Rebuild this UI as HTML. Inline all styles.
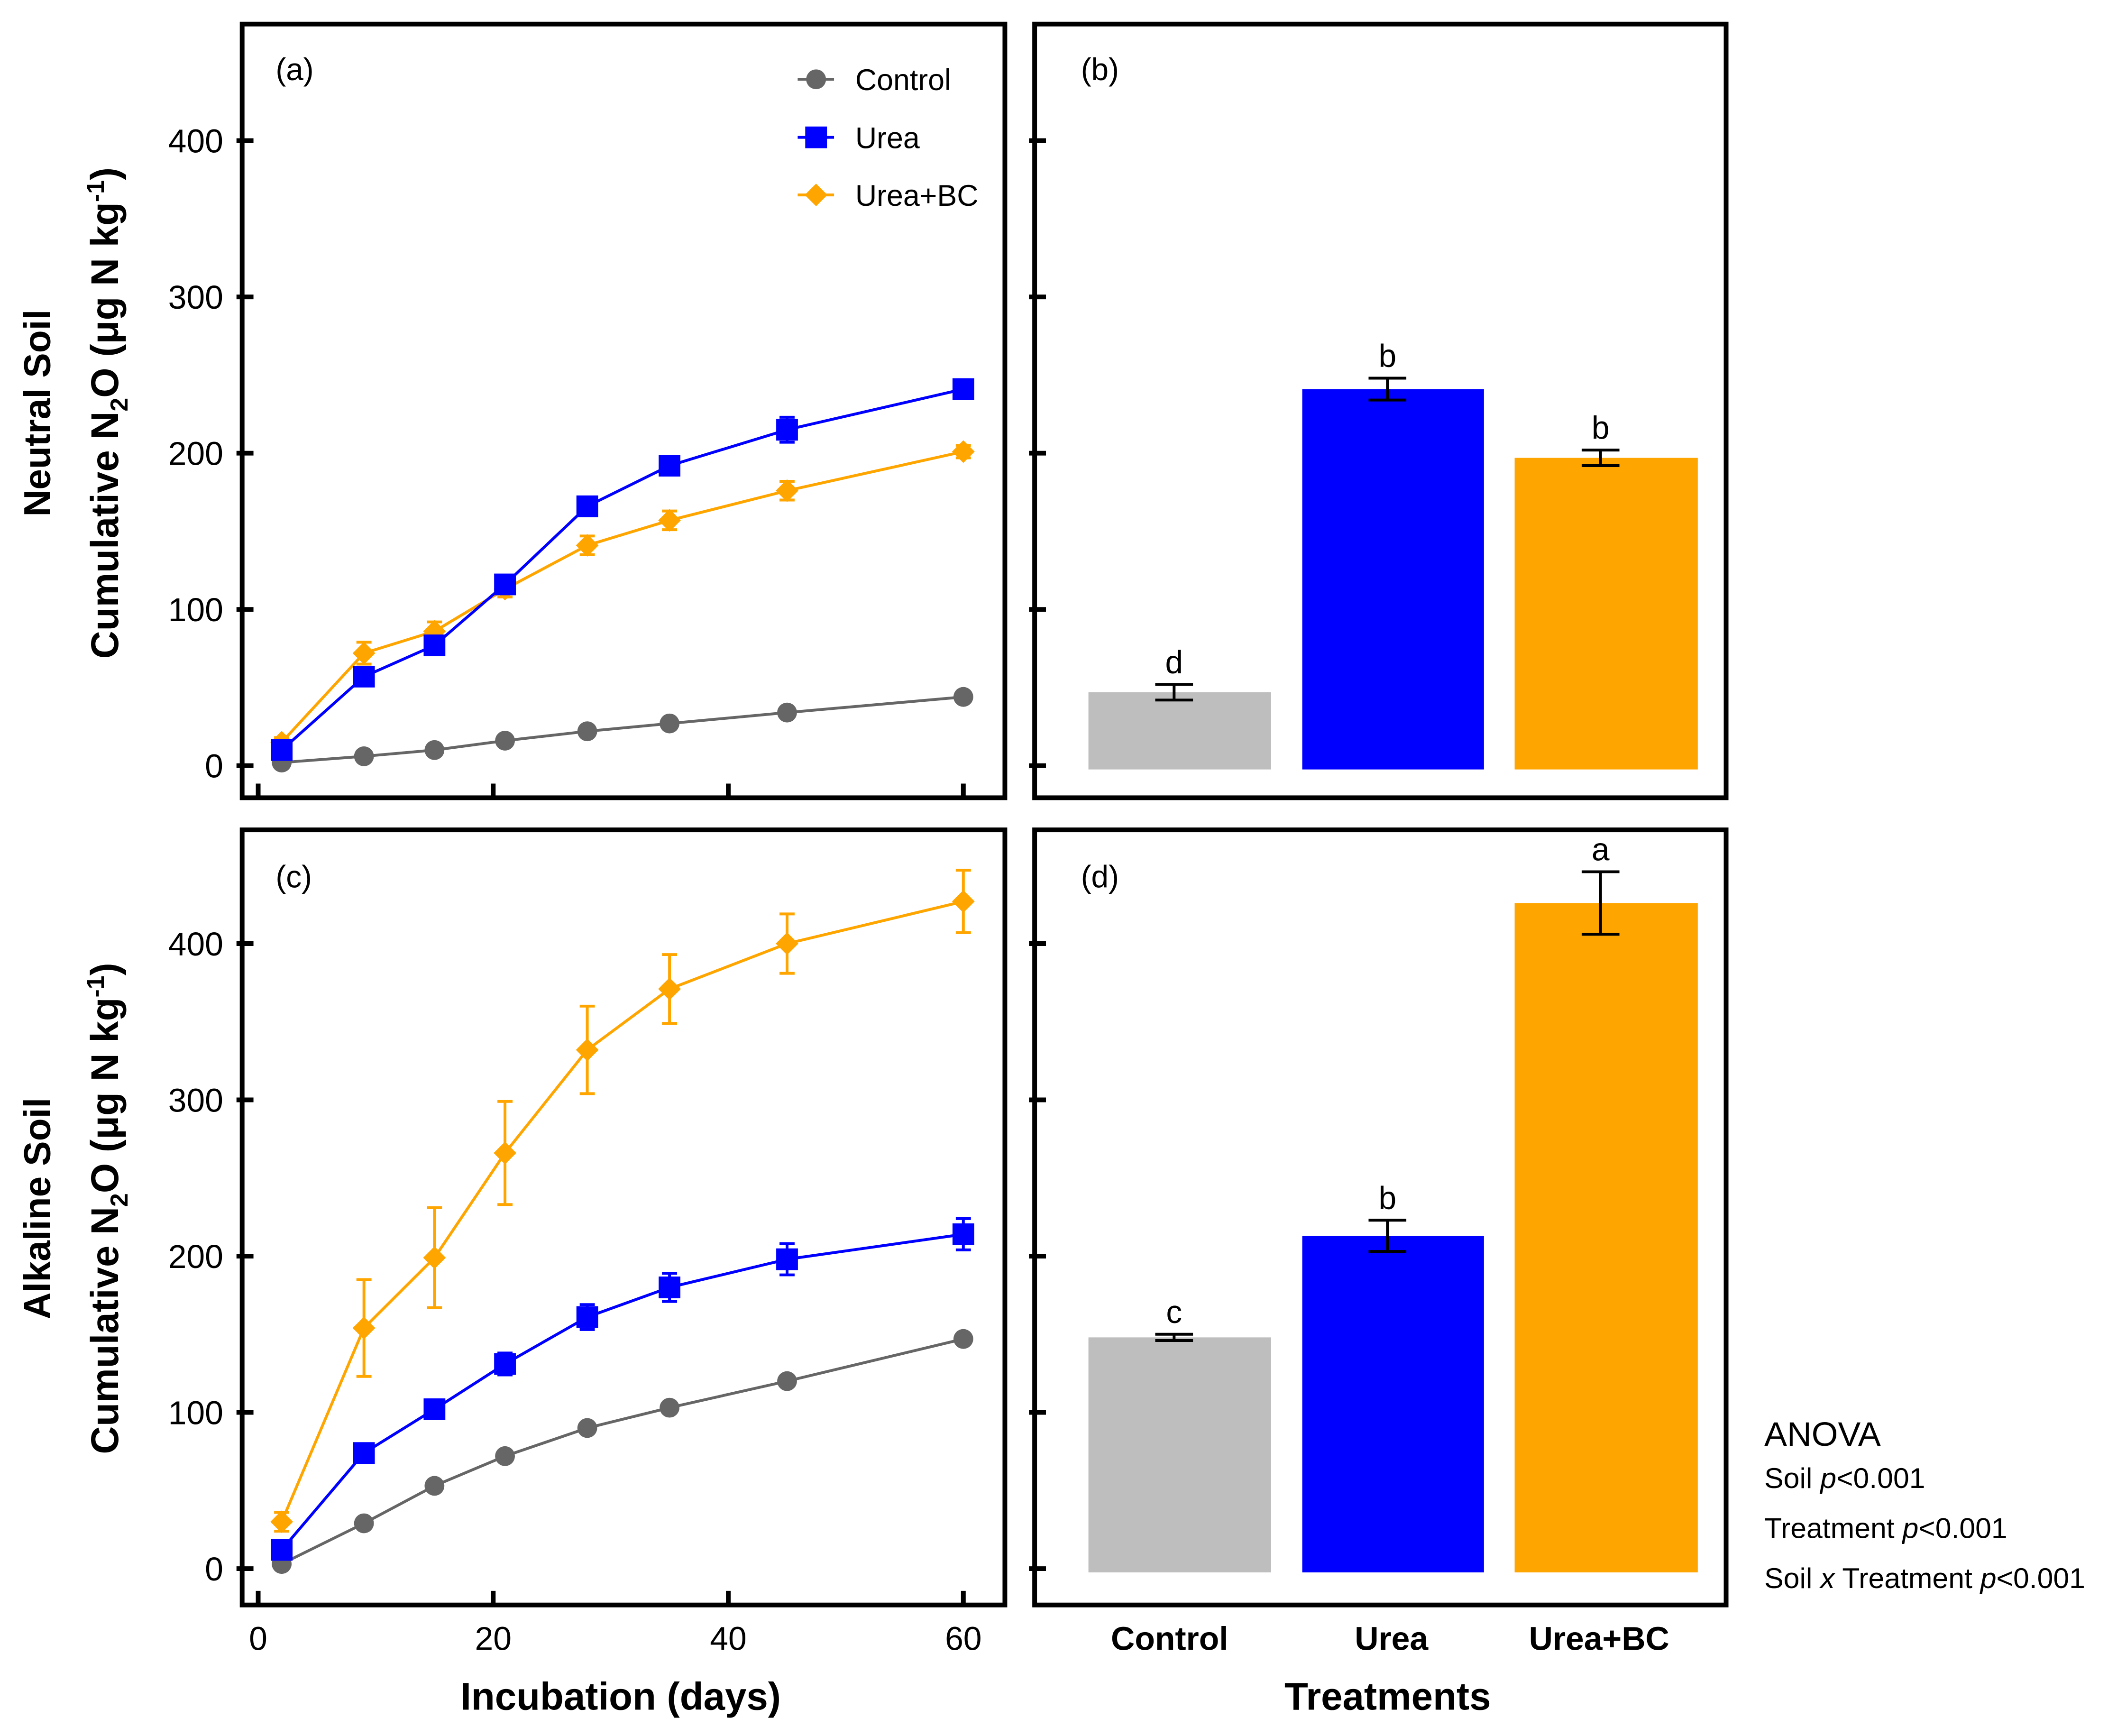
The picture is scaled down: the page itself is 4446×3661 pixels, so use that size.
<!DOCTYPE html>
<html><head><meta charset="utf-8"><style>
html,body{margin:0;padding:0;background:#fff;}
svg{display:block;font-family:"Liberation Sans",Arial,sans-serif;}
</style></head><body>
<svg id="fig" width="4446" height="3661" viewBox="0 0 4446 3661" xmlns="http://www.w3.org/2000/svg">
<g transform="scale(0.9955)">
<g id="root"></g>
<text x="584" y="170" font-size="66">(a)</text>
<text x="2290" y="170" font-size="66">(b)</text>
<text x="584" y="1880" font-size="66">(c)</text>
<text x="2290" y="1880" font-size="66">(d)</text>
<text transform="translate(106,875) rotate(-90)" font-size="79" font-weight="bold" text-anchor="middle">Neutral Soil</text>
<text transform="translate(250,875) rotate(-90)" font-size="82" font-weight="bold" text-anchor="middle">Cumulative N<tspan font-size="52" dy="20">2</tspan><tspan dy="-20">O (μg N kg</tspan><tspan font-size="52" dy="-30">-1</tspan><tspan dy="30">)</tspan></text>
<text transform="translate(106,2560) rotate(-90)" font-size="79" font-weight="bold" text-anchor="middle">Alkaline Soil</text>
<text transform="translate(250,2560) rotate(-90)" font-size="82" font-weight="bold" text-anchor="middle">Cumulative N<tspan font-size="52" dy="20">2</tspan><tspan dy="-20">O (μg N kg</tspan><tspan font-size="52" dy="-30">-1</tspan><tspan dy="30">)</tspan></text>
<text x="1315" y="3622" font-size="82" font-weight="bold" text-anchor="middle">Incubation (days)</text>
<text x="2940" y="3622" font-size="82" font-weight="bold" text-anchor="middle">Treatments</text>
<text x="2478" y="3495" font-size="70" font-weight="bold" text-anchor="middle">Control</text>
<text x="2948" y="3495" font-size="70" font-weight="bold" text-anchor="middle">Urea</text>
<text x="3388" y="3495" font-size="70" font-weight="bold" text-anchor="middle">Urea+BC</text>
<text x="3738" y="3063" font-size="72">ANOVA</text>
<text x="3738" y="3152" font-size="61">Soil <tspan font-style="italic">p</tspan>&lt;0.001</text>
<text x="3738" y="3258" font-size="61">Treatment <tspan font-style="italic">p</tspan>&lt;0.001</text>
<text x="3738" y="3364" font-size="61">Soil <tspan font-style="italic">x</tspan> Treatment <tspan font-style="italic">p</tspan>&lt;0.001</text>
</g>
</svg>
<script>
const days = [2,9,15,21,28,35,45,60];
const neutralControl = [2,6,10,16,22,27,34,44];
const neutralControlErr = [1,1,1,1,1,1,1,1];
const neutralUrea = [10,57,77,116,166,192,215,241];
const neutralUreaErr = [3,4,5,5,5,5,8,6];
const neutralUreaBC = [15,72,86,113,141,157,176,201];
const neutralUreaBCErr = [3,7,6,5,6,6,6,4];
const alkControl = [3,29,53,72,90,103,120,147];
const alkControlErr = [1,1,1,1,1,1,1,1];
const alkUrea = [12,74,102,131,161,180,198,214];
const alkUreaErr = [3,4,6,7,8,9,10,10];
const alkUreaBC = [30,154,199,266,332,371,400,427];
const alkUreaBCErr = [6,31,32,33,28,22,19,20];
const treatments = ["Control","Urea","Urea+BC"];
const neutralBars = [47,241,197];
const neutralBarErr = [5,7,5];
const neutralLetters = ["d","b","b"];
const alkBars = [148,213,426];
const alkBarErr = [2,10,20];
const alkLetters = ["c","b","a"];
const yTicks = [0,100,200,300,400];
const xTicks = [0,20,40,60];

const NS="http://www.w3.org/2000/svg";
const root=document.getElementById('root');
function el(tag,attrs,parent,text){const e=document.createElementNS(NS,tag);for(const k in attrs)e.setAttribute(k,attrs[k]);if(text!==undefined)e.textContent=text;(parent||root).appendChild(e);return e;}

const xL=function(d){return 547+(d-0)*(2041-547)/60;};
function yMap(base){return function(v){return base - v*3.31;};}
const yTop=yMap(1622), yBot=yMap(3323);
const colors={control:"#666666",urea:"#0000ff",bc:"#ffa500"};
const barColors=["#bebebe","#0000ff","#ffa500"];
const barX=[[2306,2693],[2759,3144],[3209,3597]];

function frame(x1,y1,x2,y2,name){
  const r=el('rect',{x:x1,y:y1,width:x2-x1,height:y2-y1,fill:'none',stroke:'#000','stroke-width':10});
  
  
}
function yAxis(y,xf,labels,name){
  const g=el('g',{});
  
  
  yTicks.forEach(t=>{
    el('line',{x1:xf-12,x2:xf+24,y1:y(t),y2:y(t),stroke:'#000','stroke-width':10},g);
    if(labels){const tx=el('text',{x:xf-40,y:y(t)+25,'font-size':70,'text-anchor':'end'},g,String(t));
      
      }
  });
}
function xAxis(yb,labels,name){
  const g=el('g',{});
  
  
  xTicks.forEach(t=>{
    el('line',{x1:xL(t),x2:xL(t),y1:yb-30,y2:yb+4,stroke:'#000','stroke-width':10},g);
    if(labels){const tx=el('text',{x:xL(t),y:yb+95,'font-size':70,'text-anchor':'middle'},g,String(t));
      
      }
  });
}
function marker(g,type,cx,cy,c){
  if(type==='circle')el('circle',{cx:cx,cy:cy,r:21,fill:c},g);
  else if(type==='square')el('rect',{x:cx-23,y:cy-23,width:46,height:46,fill:c},g);
  else el('polygon',{points:`${cx},${cy-24} ${cx+24},${cy} ${cx},${cy+24} ${cx-24},${cy}`,fill:c},g);
}
function series(vals,errs,y,c,type,name){
  const g=el('g',{});
  
  
  el('polyline',{points:days.map((d,i)=>xL(d)+','+y(vals[i])).join(' '),fill:'none',stroke:c,'stroke-width':6},g);
  days.forEach((d,i)=>{
    const x=xL(d),t=y(vals[i]+errs[i]),b=y(vals[i]-errs[i]);
    el('line',{x1:x,x2:x,y1:t,y2:b,stroke:c,'stroke-width':6},g);
    el('line',{x1:x-16,x2:x+16,y1:t,y2:t,stroke:c,'stroke-width':6},g);
    el('line',{x1:x-16,x2:x+16,y1:b,y2:b,stroke:c,'stroke-width':6},g);
  });
  days.forEach((d,i)=>marker(g,type,xL(d),y(vals[i]),c));
}
function bars(vals,errs,letters,y,name){
  const g=el('g',{});
  
  
  vals.forEach((v,i)=>{
    const [a,b]=barX[i];
    const r=el('rect',{x:a,y:y(v),width:b-a,height:y(0)-y(v)+8,fill:barColors[i]},g);
    
    
    const cx=(a+b)/2-12,t=y(v+errs[i]),bt=y(v-errs[i]);
    el('line',{x1:cx,x2:cx,y1:t,y2:bt,stroke:'#000','stroke-width':6},g);
    el('line',{x1:cx-40,x2:cx+40,y1:t,y2:t,stroke:'#000','stroke-width':6},g);
    el('line',{x1:cx-40,x2:cx+40,y1:bt,y2:bt,stroke:'#000','stroke-width':6},g);
    const tx=el('text',{x:cx,y:t-24,'font-size':68,'text-anchor':'middle'},g,letters[i]);
    
    
  });
}

series(neutralControl,neutralControlErr,yTop,colors.control,'circle','series-control-neutral');
series(neutralUreaBC,neutralUreaBCErr,yTop,colors.bc,'diamond','series-urea-bc-neutral');
series(neutralUrea,neutralUreaErr,yTop,colors.urea,'square','series-urea-neutral');
frame(513,51,2129,1690,'panel-a-frame');
yAxis(yTop,513,true,'panel-a-y-axis');
xAxis(1690,false,'panel-a-x-axis');
series(alkControl,alkControlErr,yBot,colors.control,'circle','series-control-alkaline');
series(alkUrea,alkUreaErr,yBot,colors.urea,'square','series-urea-alkaline');
series(alkUreaBC,alkUreaBCErr,yBot,colors.bc,'diamond','series-urea-bc-alkaline');
frame(513,1758,2129,3400,'panel-c-frame');
yAxis(yBot,513,true,'panel-c-y-axis');
xAxis(3400,true,'panel-c-x-axis');
bars(neutralBars,neutralBarErr,neutralLetters,yTop,'panel-b-bars');
frame(2192,51,3657,1690,'panel-b-frame');
yAxis(yTop,2192,false,'panel-b-y-axis');
bars(alkBars,alkBarErr,alkLetters,yBot,'panel-d-bars');
frame(2192,1758,3657,3400,'panel-d-frame');
yAxis(yBot,2192,false,'panel-d-y-axis');

const leg=el('g',{});


[["Control",colors.control,'circle',168],["Urea",colors.urea,'square',291],["Urea+BC",colors.bc,'diamond',413]].forEach(([t,c,m,yy])=>{
  el('line',{x1:1690,x2:1767,y1:yy,y2:yy,stroke:c,'stroke-width':6},leg);
  marker(leg,m,1729,yy,c);
  const tx=el('text',{x:1812,y:yy+23,'font-size':63},leg,t);
  
  
});
</script>
</body></html>
